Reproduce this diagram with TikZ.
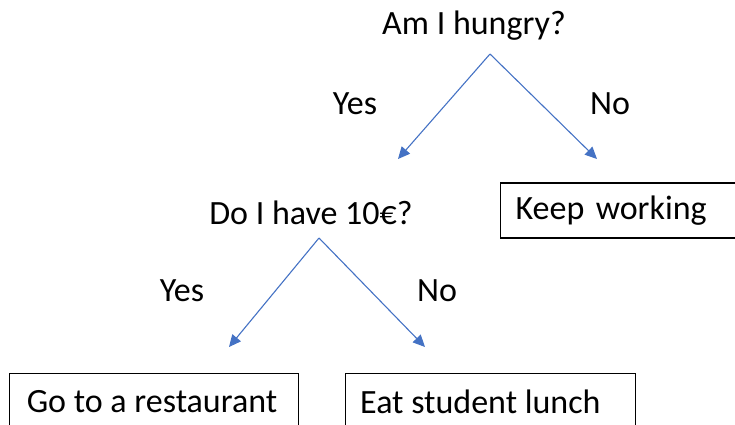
\documentclass[tikz,border=0pt]{standalone}
\usepackage{fontspec}
\setmainfont{Carlito}
\usetikzlibrary{arrows.meta}
\definecolor{officeblue}{RGB}{68,114,196}
\begin{document}
\begin{tikzpicture}[x=1pt,y=-1pt,
  every node/.style={font=\fontsize{34}{40}\selectfont, text=black},
  lbl/.style={inner sep=0pt},
  leaf/.style={draw=black, line width=1.3pt, minimum height=55pt, inner sep=0pt},
  branch/.style={draw=officeblue, line width=1.1pt, -{Triangle[length=12pt,width=11pt]}}]
\useasboundingbox (0,0) rectangle (735,424);
\clip (0,0) rectangle (735,424);
% top question
\node[lbl] (q1) at (474,26) {Am I hungry?};
\coordinate (a1) at (490,54);
\coordinate (e1l) at (398,159);
\coordinate (e1r) at (597,159);
\draw[branch] (a1) -- (e1l);
\draw[branch] (a1) -- (e1r);
\node[lbl] (y1) at (355,104) {Yes};
\node[lbl] (n1) at (610,104) {No};
% second question
\node[lbl] (q2) at (311,213) {Do I have 10€?};
\node[leaf, anchor=west, minimum width=236pt, text width=206pt, align=left, inner xsep=15pt] (kw) at (500,210.5) {Keep working};
\coordinate (a2) at (319,238);
\coordinate (e2l) at (229,347);
\coordinate (e2r) at (425,347);
\draw[branch] (a2) -- (e2l);
\draw[branch] (a2) -- (e2r);
\node[lbl] (y2) at (182,291) {Yes};
\node[lbl] (n2) at (437,291) {No};
% leaves
\node[leaf, anchor=north west, minimum width=289pt, minimum height=70pt] (gr) at (9,373) {};
\node[lbl] at (152,402) {Go to a restaurant};
\node[leaf, anchor=north west, minimum width=290pt, minimum height=70pt] (es) at (345,373) {};
\node[lbl, anchor=west] at (360,402) {Eat student lunch};
\end{tikzpicture}
\end{document}
